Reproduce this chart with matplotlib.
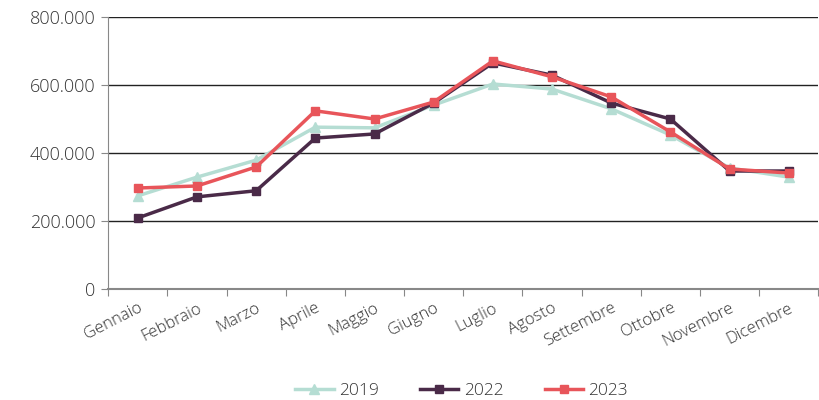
#
# Monthly arrivals: 2019 vs 2022 vs 2023
#

import matplotlib.pyplot as plt
from matplotlib.ticker import FuncFormatter, FixedLocator
import numpy as np

months = ['Gennaio', 'Febbraio', 'Marzo', 'Aprile', 'Maggio', 'Giugno',
          'Luglio', 'Agosto', 'Settembre', 'Ottobre', 'Novembre', 'Dicembre']

v2019 = [274000, 329000, 379000, 476000, 474000, 541000,
         603000, 588000, 530000, 453000, 356000, 329000]
v2022 = [209000, 271000, 289000, 444000, 456000, 547000,
         665000, 629000, 547000, 500000, 347000, 347000]
v2023 = [297000, 303000, 359000, 524000, 500000, 550000,
         671000, 624000, 565000, 462000, 353000, 341000]

plt.rcParams['font.family'] = ['Open Sans', 'DejaVu Sans']
plt.rcParams['font.weight'] = 'light'

fig = plt.figure(figsize=(8.2, 4), dpi=100)
ax = fig.add_axes([0.132, 0.2775, 0.866, 0.68])

x = np.arange(len(months))
ax.plot(x, v2019, color='#b5ddd3', lw=2.5, marker='^', ms=7, label='2019')
ax.plot(x, v2022, color='#4a2a48', lw=2.5, marker='s', ms=6, label='2022')
ax.plot(x, v2023, color='#e8555a', lw=2.5, marker='s', ms=6, label='2023')

ax.set_xlim(-0.5, 11.5)
ax.set_ylim(0, 800000)
ax.set_yticks([0, 200000, 400000, 600000, 800000])
ax.yaxis.set_major_formatter(FuncFormatter(lambda v, p: f'{int(v):,}'.replace(',', '.')))
ax.yaxis.grid(True, color='#222222', lw=1)
ax.set_axisbelow(True)

# ticks between categories, labels under categories
ax.xaxis.set_major_locator(FixedLocator(np.arange(-0.5, 12, 1)))
ax.xaxis.set_minor_locator(FixedLocator(x))
ax.set_xticklabels([], minor=False)
ax.set_xticklabels(months, minor=True, rotation=27, ha='right',
                   rotation_mode='anchor', fontsize=12, color='#333333')
ax.tick_params(axis='x', which='minor', length=0, pad=8)
ax.tick_params(axis='x', which='major', length=5, color='#888888')
ax.tick_params(axis='y', length=5, color='#888888', labelsize=13,
               labelcolor='#333333', pad=4)

for side in ['top', 'right']:
    ax.spines[side].set_visible(False)
ax.spines['left'].set_color('#888888')
ax.spines['bottom'].set_color('#888888')
ax.spines['bottom'].set_linewidth(1.5)

fig.legend(loc='center', ncol=3, frameon=False, fontsize=12.5,
           bbox_to_anchor=(0.563, 0.022), handlelength=2.2, handletextpad=0.3,
           columnspacing=2.4, labelcolor='#333333')

fig.savefig('out.png', dpi=100)
